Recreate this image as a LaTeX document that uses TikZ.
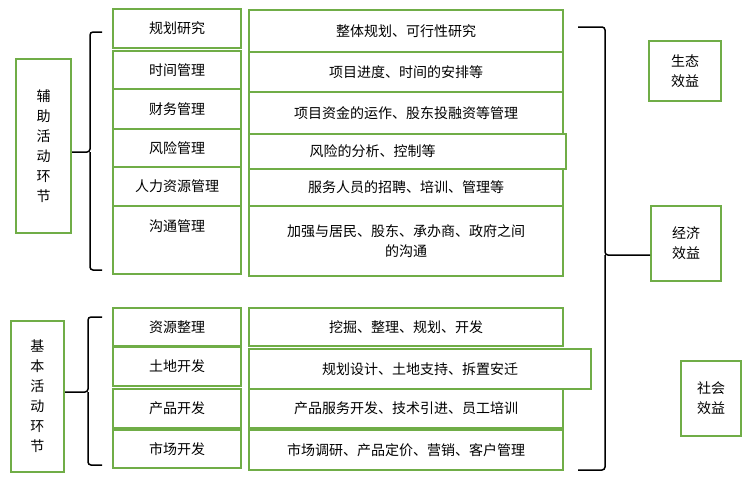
\documentclass[tikz,border=0pt]{standalone}
\usepackage{fontspec}
\setmainfont{Noto Sans CJK SC}
\usetikzlibrary{positioning}
\definecolor{boxgreen}{HTML}{70AD47}
\newcommand{\mkbox}[6]{\node[box, minimum width={#4-#2}, minimum height={#5-#3}, anchor=north west] (#1) at (#2,#3) {#6};}

\begin{document}
\begin{tikzpicture}[x=1pt, y=-1pt,
    box/.style={draw=boxgreen, line width=2pt, inner sep=0pt, align=center, font=\fontsize{14}{20}\selectfont},
    brace/.style={draw, line width=1.5pt, rounded corners=3pt}
]
    \useasboundingbox (0,0) rectangle (752,496);
    % Left side
    \mkbox{aux}{15}{58}{70}{232}{辅\\助\\活\\动\\环\\节}
    \mkbox{basic}{10}{320}{63}{471}{基\\本\\活\\动\\环\\节}

    % Auxiliary activities
    \mkbox{plan}{112}{8}{240}{47}{规划研究}
    \mkbox{time}{112}{50}{240}{88}{时间管理}
    \mkbox{fin}{112}{88}{240}{128}{财务管理}
    \mkbox{risk}{112}{128}{240}{166}{风险管理}
    \mkbox{hr}{112}{166}{240}{205}{人力资源管理}
    \mkbox{comm}{112}{205}{240}{273}{\raisebox{28pt}{沟通管理}}
    \mkbox{planD}{248}{9}{562}{51}{整体规划、可行性研究}
    \mkbox{timeD}{248}{51}{562}{91}{项目进度、时间的安排等}
    \mkbox{finD}{248}{91}{562}{133}{项目资金的运作、股东投融资等管理}
    \mkbox{riskD}{248}{133}{565}{168}{\hspace*{-70pt}风险的分析、控制等}
    \mkbox{hrD}{248}{168}{562}{205}{服务人员的招聘、培训、管理等}
    \mkbox{commD}{248}{205}{562}{275}{加强与居民、股东、承办商、政府之间\\的沟通}

    % Basic activities
    \mkbox{res}{112}{307}{240}{345}{资源整理}
    \mkbox{land}{112}{346}{240}{385}{土地开发}
    \mkbox{prod}{112}{388}{240}{427}{产品开发}
    \mkbox{mkt}{112}{429}{240}{467}{市场开发}
    \mkbox{resD}{248}{307}{562}{345}{挖掘、整理、规划、开发}
    \mkbox{landD}{248}{348}{590}{388}{规划设计、土地支持、拆置安迁}
    \mkbox{prodD}{248}{388}{562}{427}{产品服务开发、技术引进、员工培训}
    \mkbox{mktD}{248}{429}{562}{469}{市场调研、产品定价、营销、客户管理}

    % Benefits
    \mkbox{eco}{648}{40}{720}{100}{生态\\效益}
    \mkbox{econ}{650}{205}{720}{280}{经济\\效益}
    \mkbox{soc}{680}{360}{740}{435}{社会\\效益}

    % Braces
    \draw[brace] (102,32) -- (90,32) -- (90,152) -- (aux.east |- 0,152);
    \draw[brace] (102,270) -- (90,270) -- (90,152);
    \draw[brace] (102,317) -- (88,317) -- (88,392) -- (basic.east |- 0,392);
    \draw[brace] (102,465) -- (88,465) -- (88,392);
    \draw[brace] (578,27) -- (605,27) -- (605,255) -- (econ.west |- 0,255);
    \draw[brace] (578,470) -- (605,470) -- (605,255);
\end{tikzpicture}
\end{document}
